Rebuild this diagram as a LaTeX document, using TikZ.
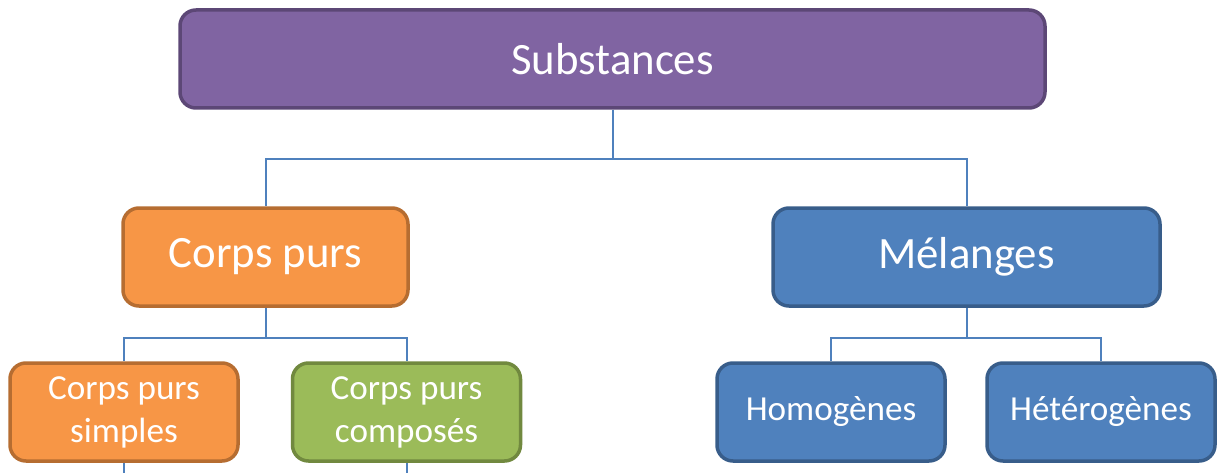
\documentclass[tikz,border=0pt]{standalone}
\usepackage{fontspec}
\setmainfont{Carlito}
\usepackage{tikz}
\usetikzlibrary{calc}

\definecolor{violetF}{HTML}{8064A2}
\definecolor{violetD}{HTML}{5C4776}
\definecolor{orangeF}{HTML}{F79646}
\definecolor{orangeD}{HTML}{B66D31}
\definecolor{vertF}{HTML}{9BBB59}
\definecolor{vertD}{HTML}{71893F}
\definecolor{bleuF}{HTML}{4F81BD}
\definecolor{bleuD}{HTML}{385D8A}
\definecolor{lien}{HTML}{4F81BD}

\newlength{\px}
\setlength{\px}{0.02cm}

\tikzset{
	boite/.style={draw, line width=3.5\px, rounded corners=16\px, text=white,
		align=center, inner sep=0pt, minimum height=98\px},
	grand/.style={boite, font=\fontsize{25.5}{30}\selectfont},
	petit/.style={boite, font=\fontsize{20}{24.5}\selectfont, minimum width=228\px},
	violet/.style={fill=violetF, draw=violetD},
	orange/.style={fill=orangeF, draw=orangeD},
	vert/.style={fill=vertF, draw=vertD},
	bleu/.style={fill=bleuF, draw=bleuD},
	lien/.style={draw=lien, line width=2\px}
}

\begin{document}
\begin{tikzpicture}[x=0.02cm,y=-0.02cm]
	\useasboundingbox (0,0) rectangle (1221,473);

	\node[grand,violet,minimum width=865\px] (subst) at (612.5,59) {Substances};
	\node[grand,orange,minimum width=285\px] (purs) at (265.5,257) {Corps purs};
	\node[grand,bleu,minimum width=387\px] (melange) at (966.5,257) {Mélanges};

	\node[petit,orange] (simples) at (124,412) {Corps purs\\simples};
	\node[petit,vert] (composes) at (406.5,412) {Corps purs\\composés};
	\node[petit,bleu] (homog) at (831,412) {Homogènes};
	\node[petit,bleu] (hetero) at (1101,412) {Hétérogènes};

	% liens
	\draw[lien] (subst.south) -- ++(0,49) -| (purs.north);
	\draw[lien] (subst.south) -- ++(0,49) -| (melange.north);
	\draw[lien] (purs.south) -- ++(0,30) -| (simples.north);
	\draw[lien] (purs.south) -- ++(0,30) -| (composes.north);
	\draw[lien] (melange.south) -- ++(0,30) -| (homog.north);
	\draw[lien] (melange.south) -- ++(0,30) -| (hetero.north);

	\coordinate (basA) at (simples.south |- 0,475);
	\coordinate (basB) at (composes.south |- 0,475);
	\draw[lien] (simples.south) -- (basA);
	\draw[lien] (composes.south) -- (basB);
\end{tikzpicture}
\end{document}
